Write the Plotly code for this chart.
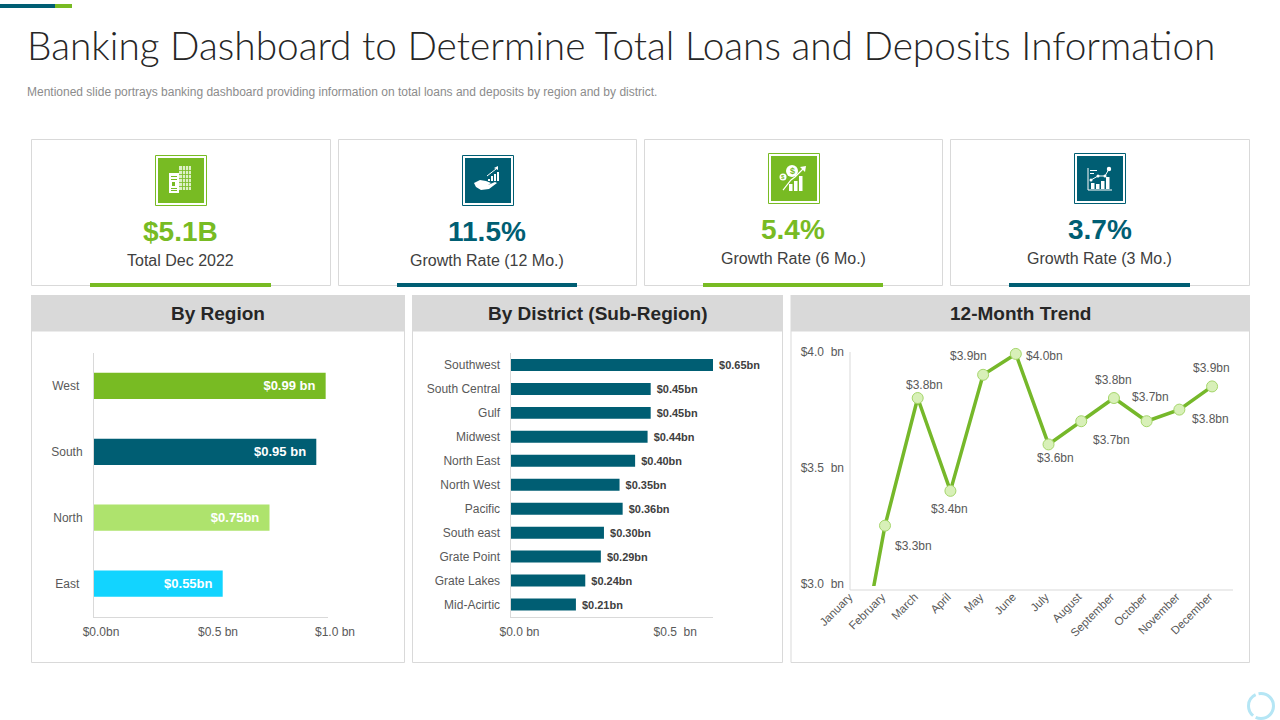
import plotly.graph_objects as go

GREEN = "#78BB23"
TEAL = "#005E73"
LIGHT_GREEN = "#AEE36D"
CYAN = "#12D4FF"
GREY = "#D9D9D9"
TEXT = "#595959"
FONT = "Liberation Sans"

# data

kpi_values = ["$5.1B", "11.5%", "5.4%", "3.7%"]
kpi_labels = ["Total Dec 2022", "Growth Rate (12 Mo.)", "Growth Rate (6 Mo.)", "Growth Rate (3 Mo.)"]

regions = ["West", "South", "North", "East"]
region_values = [0.99, 0.95, 0.75, 0.55]
region_text = ["$0.99 bn", "$0.95 bn", "$0.75bn", "$0.55bn"]
region_ticks = ["West\u00a0", "South", "North", "East\u00a0"]
region_xticks = [0, 0.5, 1.0]
region_xlabels = ["$0.0bn", "$0.5 bn", "$1.0 bn"]

districts = ["Southwest", "South Central", "Gulf", "Midwest", "North East", "North West",
             "Pacific", "South east", "Grate Point", "Grate Lakes", "Mid-Acirtic"]
district_values = [0.65, 0.45, 0.45, 0.44, 0.40, 0.35, 0.36, 0.30, 0.29, 0.24, 0.21]
district_text = ["$0.65bn", "$0.45bn", "$0.45bn", "$0.44bn", "$0.40bn", "$0.35bn",
                 "$0.36bn", "$0.30bn", "$0.29bn", "$0.24bn", "$0.21bn"]
district_xticks = [0, 0.5]
district_xlabels = ["$0.0 bn", "$0.5  bn"]

months = ["January", "February", "March", "April", "May", "June", "July",
          "August", "September", "October", "November", "December"]
trend_values = [2.49, 3.25, 3.80, 3.40, 3.90, 3.99, 3.60, 3.70, 3.80, 3.70, 3.75, 3.85]
trend_text = ["", "$3.3bn", "$3.8bn", "$3.4bn", "$3.9bn", "$4.0bn", "$3.6bn",
              "$3.7bn", "$3.8bn", "$3.7bn", "$3.8bn", "$3.9bn"]
trend_yticks = [3.0, 3.5, 4.0]
trend_ylabels = ["$3.0  bn", "$3.5  bn", "$4.0  bn"]

# pixel offset of each trend label from its point
trend_offsets = [(0, 0), (28, 20), (7, -13), (-1, 18), (-15, -19), (29, 2),
                 (7, 14), (30, 19), (0, -18), (4, -24), (31, 9), (-1, -18)]


# helpers, everything on the slide is placed in pixels

def px(x):
    return x / 1280


def py(y):
    return 1 - y / 720


shapes = []
annotations = []


def rect(x0, y0, x1, y1, fill=None, line=None, width=1):
    shapes.append(dict(
        type="rect", xref="paper", yref="paper", layer="below",
        x0=px(x0), x1=px(x1), y0=py(y0), y1=py(y1),
        fillcolor=fill if fill else "rgba(0,0,0,0)",
        line=dict(color=line, width=width) if line else dict(width=0),
    ))


def circle(cx, cy, r, fill=None, line=None, width=1, dash=None):
    shapes.append(dict(
        type="circle", xref="paper", yref="paper", layer="below",
        x0=px(cx - r), x1=px(cx + r), y0=py(cy - r), y1=py(cy + r),
        fillcolor=fill if fill else "rgba(0,0,0,0)",
        line=dict(color=line, width=width, dash=dash) if line else dict(width=0),
    ))


def poly(points, fill=None, line=None, width=1, close=False):
    path = "M " + " L ".join(f"{px(x):.5f},{py(y):.5f}" for x, y in points)
    if close:
        path += " Z"
    shapes.append(dict(
        type="path", xref="paper", yref="paper", layer="below", path=path,
        fillcolor=fill if fill else "rgba(0,0,0,0)",
        line=dict(color=line, width=width) if line else dict(width=0),
    ))


def label(x, y, text, size, color=TEXT, bold=False, anchor="center", family=FONT, weight=None):
    font = dict(size=size, color=color, family=family)
    if weight:
        font["weight"] = weight
    annotations.append(dict(
        xref="paper", yref="paper", x=px(x), y=py(y),
        text=f"<b>{text}</b>" if bold else text,
        showarrow=False, xanchor=anchor, yanchor="middle",
        font=font,
    ))


# header

rect(0, 4, 55, 8, fill=TEAL)
rect(55, 4, 72, 8, fill=GREEN)
label(25, 44.5, "Banking Dashboard to Determine Total Loans and Deposits Information",
      38.8, color="#262626", anchor="left", family="Lato", weight=300)
label(25, 92, "Mentioned slide portrays banking dashboard providing information on total loans and deposits by region and by district.",
      12, color="#8C8C8C", anchor="left")

# kpi cards

card_boxes = [(31, 330), (338, 636), (644, 942), (950, 1249)]
accent_boxes = [(90, 271), (397, 577), (703, 883), (1009, 1190)]
icon_boxes = [(155, 155), (462, 155), (768, 153), (1074, 153)]
card_colors = [GREEN, TEAL, GREEN, TEAL]
text_rows = [(232, 260), (232, 260), (230, 258), (230, 258)]

for i in range(4):
    x0, x1 = card_boxes[i]
    rect(x0 + 0.5, 139.5, x1 + 0.5, 285.5, fill="white", line=GREY)
    rect(accent_boxes[i][0], 283, accent_boxes[i][1], 287, fill=card_colors[i])
    ix, iy = icon_boxes[i]
    rect(ix + 0.5, iy + 0.5, ix + 51.5, iy + 50.5, fill="white", line=card_colors[i])
    rect(ix + 3, iy + 3, ix + 49, iy + 48, fill=card_colors[i])
    cx = (x0 + x1) / 2
    label(cx, text_rows[i][0], kpi_values[i], 28, color=card_colors[i], bold=True)
    label(cx, text_rows[i][1], kpi_labels[i], 16, color="#404040")

# icon 1, building and invoice
rect(179, 166, 191, 190, fill="#DDF0C6")
for gx in (182, 185, 188):
    rect(gx, 166, gx + 0.8, 190, fill=GREEN)
for gy in (170, 174, 178, 182, 186):
    rect(179, gy, 191, gy + 0.8, fill=GREEN)
rect(169, 173, 179, 193, fill="white")
for gy in (176, 179, 188, 190):
    rect(171, gy, 177, gy + 1, fill=GREEN)
rect(172, 182, 175, 186, fill=GREEN)

# icon 2, hand with small bars
poly([(474, 183), (480, 180), (486, 181), (491, 183), (488, 185), (495, 182), (497, 183),
      (489, 189), (481, 190), (476, 187)], fill="white", close=True)
for bx, top in ((488, 179), (491, 176), (494, 174), (497, 172)):
    rect(bx, top, bx + 2, 181, fill="white")
poly([(487, 176), (496, 169)], line="white", width=1)
poly([(494, 168), (498, 170), (498, 166)], fill="white", close=True)

# icon 3, coins and rising bars
circle(792, 171, 6, fill="white")
circle(783, 177, 3.5, fill="white")
label(792, 171, "$", 9, color=GREEN, bold=True)
label(783, 177, "$", 6, color=GREEN, bold=True)
for bx, top in ((789, 184), (794, 181), (799, 176)):
    rect(bx, top, bx + 3.5, 191, fill="white")
poly([(783, 190), (791, 180), (795, 177), (804, 168)], line="white", width=1.2)
poly([(800, 167), (806, 166), (805, 172)], fill="white", close=True)

# icon 4, small line and bar chart
poly([(1088, 168), (1088, 190), (1112, 190)], line="white", width=1)
for bx, top in ((1091, 183), (1096, 184), (1101, 181), (1106, 177)):
    rect(bx, top, bx + 3.5, 189, fill="white")
poly([(1091, 180), (1098, 176), (1105, 176), (1109, 169)], line="white", width=1)
for dx, dy, dr in ((1091, 180, 1.5), (1098, 176, 1.5), (1105, 176, 1.5), (1109, 169, 2.2)):
    circle(dx, dy, dr, fill="white")
rect(1090, 170, 1097, 171, fill="white")
rect(1090, 173, 1094, 174, fill="white")

# chart panels

panels = [(31, 405, "By Region"), (412, 783, "By District (Sub-Region)"), (790.5, 1250, "12-Month Trend")]
for x0, x1, title in panels:
    rect(x0 + 0.5, 331, x1 - 0.5, 662.5, fill="white", line=GREY)
    rect(x0, 295, x1, 331, fill=GREY)
    label((x0 + x1) / 2, 313, title, 19, color="#262626", bold=True)

# trend axis lines, the line itself is cut a few pixels above the bottom one
rect(849.5, 352, 850.5, 590, fill=GREY)
rect(850, 589.5, 1233, 590.5, fill=GREY)
circle(1261, 706, 12.5, line="#B5E6F5", width=3, dash="25px,3px")

# charts

fig = go.Figure()

fig.add_trace(go.Bar(
    y=regions,
    x=region_values,
    orientation="h",
    marker=dict(color=[GREEN, TEAL, LIGHT_GREEN, CYAN], line=dict(width=0)),
    text=[t + "\u00a0\u00a0" for t in region_text],
    textposition="inside",
    insidetextanchor="end",
    textangle=0,
    textfont=dict(size=13, color="white", family=FONT, weight="bold"),
    width=0.4,
    hoverinfo="skip",
    xaxis="x",
    yaxis="y",
))

fig.add_trace(go.Bar(
    y=districts,
    x=district_values,
    orientation="h",
    marker=dict(color=TEAL, line=dict(width=0)),
    text=["\u00a0" + t for t in district_text],
    textposition="outside",
    cliponaxis=False,
    textangle=0,
    textfont=dict(size=11, color="#404040", family=FONT, weight="bold"),
    width=0.5,
    hoverinfo="skip",
    xaxis="x2",
    yaxis="y2",
))

fig.add_trace(go.Scatter(
    x=months,
    y=trend_values,
    mode="lines+markers",
    line=dict(color="#76B82A", width=3.5),
    marker=dict(size=11, color="#D8F0B8", line=dict(color="#A5D66B", width=1)),
    hoverinfo="skip",
    xaxis="x3",
    yaxis="y3",
))

for month, value, text, (dx, dy) in zip(months, trend_values, trend_text, trend_offsets):
    if text:
        annotations.append(dict(
            xref="x3", yref="y3", x=month, y=value, text=text, showarrow=False,
            xanchor="center", yanchor="middle", xshift=dx, yshift=-dy,
            font=dict(size=12, color=TEXT, family=FONT),
        ))

axis_font = dict(size=12, color=TEXT, family=FONT)

fig.update_layout(
    template="none",
    width=1280,
    height=720,
    autosize=False,
    margin=dict(l=0, r=0, t=0, b=0, pad=0),
    paper_bgcolor="white",
    plot_bgcolor="rgba(0,0,0,0)",
    showlegend=False,
    shapes=shapes,
    annotations=annotations,
    xaxis=dict(
        domain=[px(94), px(328)], range=[0, 1.0], anchor="y", automargin=False,
        tickvals=region_xticks, ticktext=region_xlabels, tickfont=axis_font,
        showgrid=False, zeroline=False, showline=True, linecolor=GREY, linewidth=1,
        ticks="", ticklabelshift=7, ticklabelstandoff=4,
    ),
    yaxis=dict(
        domain=[py(616.5), py(353)], anchor="x", autorange="reversed", automargin=False,
        tickmode="array", tickvals=regions, ticktext=region_ticks, tickfont=axis_font,
        showgrid=False, zeroline=False, showline=True, linecolor=GREY, linewidth=1,
        ticks="", ticklabelstandoff=8,
    ),
    xaxis2=dict(
        domain=[px(510.5), px(713)], range=[0, 0.65], anchor="y2", automargin=False,
        tickvals=district_xticks, ticktext=district_xlabels, tickfont=axis_font,
        showgrid=False, zeroline=False, showline=True, linecolor=GREY, linewidth=1,
        ticks="", ticklabelshift=9, ticklabelstandoff=4,
    ),
    yaxis2=dict(
        domain=[py(616.5), py(353)], anchor="x2", autorange="reversed", automargin=False,
        tickfont=axis_font, tickmode="linear", dtick=1,
        showgrid=False, zeroline=False, showline=True, linecolor=GREY, linewidth=1,
        ticks="", ticklabelstandoff=7,
    ),
    xaxis3=dict(
        domain=[px(850), px(1233)], range=[-0.07, 11.64], anchor="free", position=py(587),
        automargin=False,
        tickfont=dict(size=11.5, color=TEXT, family=FONT), tickangle=-45, tickmode="linear", dtick=1,
        showgrid=False, zeroline=False, showline=False,
        ticks="", ticklabelshift=-3,
    ),
    yaxis3=dict(
        domain=[py(586), py(340)], range=[2.99, 4.05], anchor="x3", automargin=False,
        tickvals=trend_yticks, ticktext=trend_ylabels, tickfont=axis_font,
        showgrid=False, zeroline=False, showline=False,
        ticks="", ticklabelstandoff=5,
    ),
)

fig.write_html(
    "out.html",
    config={"displayModeBar": False},
    post_script="document.body.style.margin='0';",
)
